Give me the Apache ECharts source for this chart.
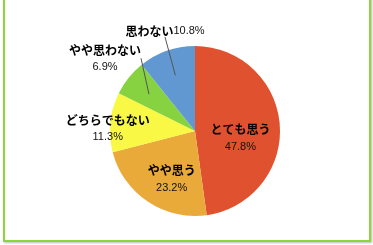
<!DOCTYPE html>
<html>
<head>
<meta charset="utf-8">
<script src="https://cdn.jsdelivr.net/npm/echarts@6/dist/echarts.min.js"></script>
<style>
  html, body { margin: 0; padding: 0; background: #fff; overflow: hidden; }
  #frame {
    position: absolute; left: 3px; top: -6px; width: 364px; height: 244px;
    border: 2px solid #8cd63c; box-shadow: 1px 1px 2px #bbb;
  }
  #main { position: absolute; left: 0; top: 0; width: 373px; height: 245px; }
</style>
</head>
<body>
<div id="frame"></div>
<div id="main"></div>
<script>
 var categories = ['とても思う', 'やや思う', 'どちらでもない', 'やや思わない', '思わない'];
 var values = [47.8, 23.2, 11.3, 6.9, 10.8];
 var colors = ['#e0512f', '#eaaa3a', '#f8f845', '#86d240', '#6198d1'];

 // 内側ラベルのずらし量 / 外側ラベル(引き出し線あり)
 var labelOffset = [[0, 10], [2, 10], [-42, 2], [0, 0], [0, 0]];
 var outerLabel = [false, false, false, true, true];

 var rich = {
     n: { fontFamily: 'Noto Sans CJK JP', fontWeight: 'bold', fontSize: 12, lineHeight: 18, color: '#000' },
     v: { fontFamily: 'Liberation Sans', fontSize: 11, lineHeight: 16, color: '#111' }
 };

 var data = categories.map(function (name, i) {
     return {
         name: name,
         value: values[i],
         itemStyle: { color: colors[i] },
         label: { show: !outerLabel[i], position: 'inside', offset: labelOffset[i] }
     };
 });

 // 引き出し線用の見えない内側の円
 var guideData = categories.map(function (name, i) {
     var item = {
         name: name,
         value: values[i],
         label: { show: outerLabel[i] },
         labelLine: { show: outerLabel[i] }
     };
     if (i === 4) item.label.formatter = '{n|{b}}{v|{c}%}';
     return item;
 });

 var chart = echarts.init(document.getElementById('main'));
 chart.setOption({
     animation: false,
     series: [{
         type: 'pie',
         z: 2,
         center: [195, 131],
         radius: 85,
         startAngle: 90,
         clockwise: true,
         data: data,
         label: {
             formatter: '{n|{b}}\n{v|{c}%}',
             rich: rich
         }
     }, {
         type: 'pie',
         z: 5,
         silent: true,
         center: [195, 131],
         radius: 59,
         startAngle: 90,
         clockwise: true,
         data: guideData,
         itemStyle: { color: 'rgba(0,0,0,0)' },
         label: {
             position: 'outside',
             formatter: '{n|{b}}\n{v|{c}%}',
             rich: rich
         },
         labelLine: {
             length: 30,
             length2: 0,
             lineStyle: { color: '#555', width: 1 }
         },
         labelLayout: function (p) {
             if (p.dataIndex === 3) return { x: 105, y: 58, align: 'center', verticalAlign: 'middle' };
             if (p.dataIndex === 4) return { x: 165, y: 31, align: 'center', verticalAlign: 'middle' };
         }
     }]
 });
</script>
</body>
</html>
